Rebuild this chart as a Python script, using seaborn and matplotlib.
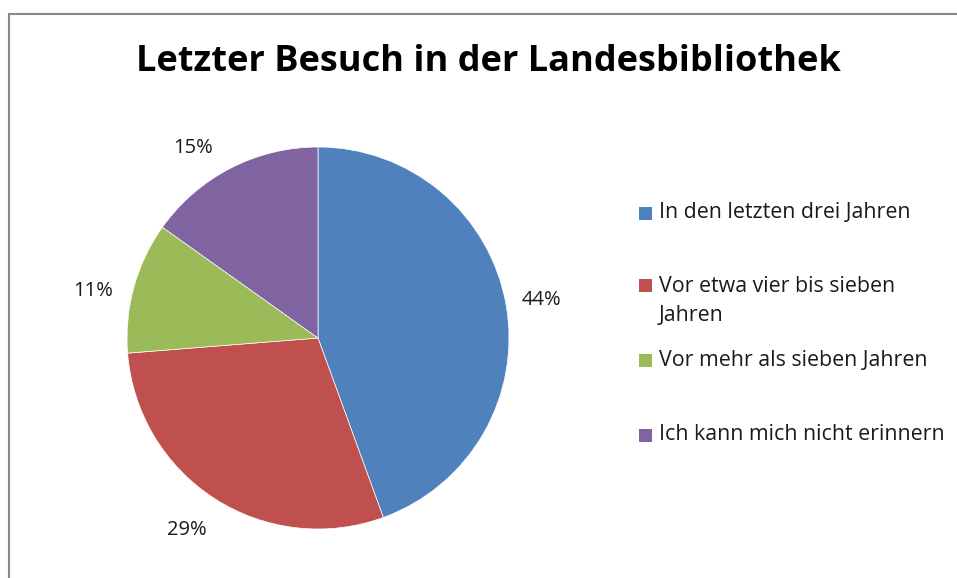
import matplotlib
matplotlib.use("Agg")
import matplotlib.pyplot as plt
import matplotlib.transforms as mtransforms
import seaborn as sns
from matplotlib.patches import Rectangle
from matplotlib.lines import Line2D

categories = ["In den letzten drei Jahren", "Vor etwa vier bis sieben\nJahren",
              "Vor mehr als sieben Jahren", "Ich kann mich nicht erinnern"]
values = [44, 29, 11, 15]
colors = ["#4F81BD", "#C0504D", "#9BBB59", "#8064A2"]

sns.set_theme(style="white")
plt.rcParams['font.family'] = ['Open Sans', 'DejaVu Sans']

W, H = 957, 578
fig = plt.figure(figsize=(W / 100, H / 100), dpi=100)

# border
fig.add_artist(Line2D([8.5 / W, 8.5 / W], [0, 1 - 13.5 / H], transform=fig.transFigure, color="#888888", lw=1.5))
fig.add_artist(Line2D([8.5 / W, 1], [1 - 13.5 / H, 1 - 13.5 / H], transform=fig.transFigure, color="#888888", lw=1.5))

cx, cy, r = 318, 338, 191
ax = fig.add_axes([(cx - r) / W, 1 - (cy + r) / H, 2 * r / W, 2 * r / H])
wedges, texts = ax.pie(values, colors=colors, startangle=90, counterclock=False,
                       labels=[f"{v}%" for v in values], labeldistance=1.2,
                       wedgeprops=dict(linewidth=0.5, edgecolor="white"),
                       textprops=dict(fontsize=14.5, color="#1a1a1a"))
# label nudges in pixels (layout), Excel-like placement
nudges = [(-2, -2), (-7, 1), (-4, -14), (-20, -14)]
for t, (dx, dy) in zip(texts, nudges):
    t.set_ha("center")
    t.set_va("center")
    t.set_transform(mtransforms.offset_copy(ax.transData, fig=fig, x=dx, y=dy, units="dots"))
ax.set_xlim(-1, 1)
ax.set_ylim(-1, 1)
ax.set_aspect("equal")
ax.axis("off")

fig.text(488 / W, 1 - 62 / H, "Letzter Besuch in der Landesbibliothek", ha="center", va="center",
         fontsize=26, fontweight="bold", color="black")

ys = [213, 285, 360, 435]
for y, lab, c in zip(ys, categories, colors):
    fig.add_artist(Rectangle((639 / W, 1 - (y + 6.5) / H), 13 / W, 13 / H, transform=fig.transFigure,
                             facecolor=c, edgecolor="none"))
    ty = y + 16 if "\n" in lab else y
    fig.text(659 / W, 1 - ty / H, lab, ha="left", va="center",
             fontsize=15.4, color="#1a1a1a", linespacing=1.55,
             transform=fig.transFigure)

fig.savefig("out.png", dpi=100)
